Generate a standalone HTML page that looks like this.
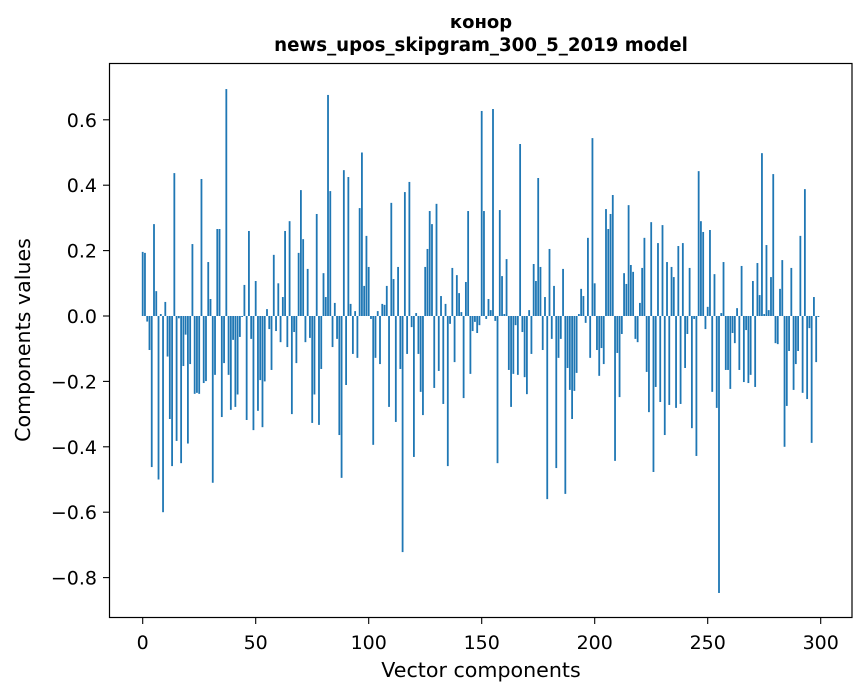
<!DOCTYPE html>
<html><head><meta charset="utf-8"><style>
body{margin:0;background:#fff;}
svg{display:block;font-family:"DejaVu Sans","Liberation Sans",sans-serif;}
</style></head><body>
<svg id="chart" width="867" height="696" viewBox="0 0 867 696" xmlns="http://www.w3.org/2000/svg">
<rect width="867" height="696" fill="#fff"/>
<text x="481" y="28" text-anchor="middle" font-size="18" font-weight="bold">конор</text>
<text x="481" y="51" text-anchor="middle" font-size="18.2" font-weight="bold">news_upos_skipgram_300_5_2019 model</text>
<g id="bars"></g>
<g id="xticks"></g>
<g id="yticks"></g>
<rect x="109.5" y="63.5" width="742.5" height="554" fill="none" stroke="#000" stroke-width="1.2"/>
<text x="481" y="677" text-anchor="middle" font-size="20.6">Vector components</text>
<text transform="translate(30,340) rotate(-90)" text-anchor="middle" font-size="20.6">Components values</text>
</svg>
<script>
const values = [
0.196,0.193,-0.017,-0.104,-0.462,0.281,0.076,-0.50,0.006,-0.60,
0.043,-0.124,-0.315,-0.459,0.437,-0.382,-0.007,-0.45,-0.153,-0.057,
-0.39,-0.147,0.22,-0.238,-0.235,-0.238,0.419,-0.205,-0.199,0.165,
0.052,-0.51,-0.18,0.266,0.266,-0.309,-0.144,0.694,-0.18,-0.287,
-0.073,-0.278,-0.24,-0.064,-0.003,0.095,-0.318,0.26,-0.07,-0.349,
0.107,-0.29,-0.196,-0.34,-0.2,0.021,-0.04,-0.165,0.187,-0.046,
0.10,-0.08,0.058,0.26,-0.095,0.29,-0.30,-0.049,-0.144,0.193,
0.385,0.235,-0.08,0.144,-0.067,-0.327,-0.24,0.312,-0.333,-0.162,
0.131,0.058,0.676,0.382,-0.095,0.04,-0.07,-0.364,-0.495,0.446,
-0.211,0.425,0.037,-0.116,0.015,-0.128,0.33,0.50,0.092,0.245,
0.15,-0.009,-0.394,-0.128,0.015,-0.147,0.037,0.034,0.092,-0.278,
0.346,0.113,-0.324,0.15,-0.162,-0.722,0.379,-0.116,0.41,-0.034,
-0.431,0.009,-0.116,-0.232,-0.303,0.15,0.205,0.321,0.281,-0.22,
0.343,-0.168,0.061,-0.269,0.037,-0.459,-0.024,0.147,-0.141,0.125,
0.07,0.012,-0.251,0.104,0.321,-0.177,-0.046,-0.018,-0.052,-0.028,
0.627,0.321,-0.009,0.052,0.018,0.633,-0.015,-0.45,0.324,0.122,
0.006,0.174,-0.165,-0.278,-0.177,-0.028,-0.18,0.526,-0.049,-0.187,
-0.239,0.018,-0.116,0.159,0.107,0.422,0.15,-0.104,0.058,-0.56,
0.205,-0.07,0.092,-0.465,-0.128,-0.07,0.144,-0.544,-0.159,-0.226,
-0.315,-0.229,-0.174,0.006,0.083,0.061,-0.021,0.239,-0.128,0.544,
0.10,-0.104,-0.183,-0.098,-0.147,0.327,0.266,0.312,0.37,-0.443,
-0.113,-0.248,-0.055,0.131,0.098,0.339,0.156,0.135,-0.07,-0.08,
0.04,0.147,0.239,-0.171,-0.294,0.287,-0.477,-0.217,0.223,-0.263,
0.278,-0.364,0.165,-0.272,0.15,0.119,-0.281,0.214,-0.269,0.223,
-0.159,-0.055,0.147,-0.343,-0.009,-0.428,0.443,0.29,0.257,-0.04,
0.028,0.263,-0.232,0.128,-0.281,-0.847,0.009,0.165,-0.165,-0.165,
-0.223,-0.052,-0.083,0.024,-0.165,0.153,-0.202,-0.043,-0.205,-0.18,
0.107,-0.217,0.162,0.064,0.498,0.006,0.217,0.018,0.119,0.434,
-0.083,-0.086,0.083,0.171,-0.40,-0.275,-0.107,0.147,-0.226,-0.147,
-0.107,0.245,-0.235,0.388,-0.254,-0.037,-0.388,0.058,-0.141,-0.003
];
const xTickValues = [0,50,100,150,200,250,300];
const yTickValues = [-0.8,-0.6,-0.4,-0.2,0.0,0.2,0.4,0.6];
const yTickLabels = ["\u22120.8","\u22120.6","\u22120.4","\u22120.2","0.0","0.2","0.4","0.6"];

const NS="http://www.w3.org/2000/svg";
const xScale = v => 142.7 + v*2.26;
const yScale = v => 316 - v*327;
const bars=document.getElementById('bars');
values.forEach((v,i)=>{
  const r=document.createElementNS(NS,'rect');
  const y0=yScale(0), y1=yScale(v);
  r.setAttribute('x', xScale(i)-0.9);
  r.setAttribute('width', 1.8);
  r.setAttribute('y', Math.min(y0,y1));
  r.setAttribute('height', Math.max(Math.abs(y1-y0),0.3));
  r.setAttribute('fill','#1f77b4');
  
  
  bars.appendChild(r);
});
const xt=document.getElementById('xticks');
xTickValues.forEach(t=>{
  const x=xScale(t);
  const l=document.createElementNS(NS,'line');
  l.setAttribute('x1',x);l.setAttribute('x2',x);l.setAttribute('y1',618);l.setAttribute('y2',624);
  l.setAttribute('stroke','#000');l.setAttribute('stroke-width','1.1');
  
  
  xt.appendChild(l);
  const s=document.createElementNS(NS,'text');
  s.setAttribute('x',x);s.setAttribute('y',649);s.setAttribute('text-anchor','middle');s.setAttribute('font-size','19');
  s.textContent=String(t);
  
  
  xt.appendChild(s);
});
const yt=document.getElementById('yticks');
yTickValues.forEach((t,i)=>{
  const y=yScale(t);
  const l=document.createElementNS(NS,'line');
  l.setAttribute('x1',103);l.setAttribute('x2',109.5);l.setAttribute('y1',y);l.setAttribute('y2',y);
  l.setAttribute('stroke','#000');l.setAttribute('stroke-width','1.1');
  
  
  yt.appendChild(l);
  const s=document.createElementNS(NS,'text');
  s.setAttribute('x',97);s.setAttribute('y',y+7);s.setAttribute('text-anchor','end');s.setAttribute('font-size','19');
  s.textContent=yTickLabels[i];
  
  
  yt.appendChild(s);
});
</script>
</body></html>
